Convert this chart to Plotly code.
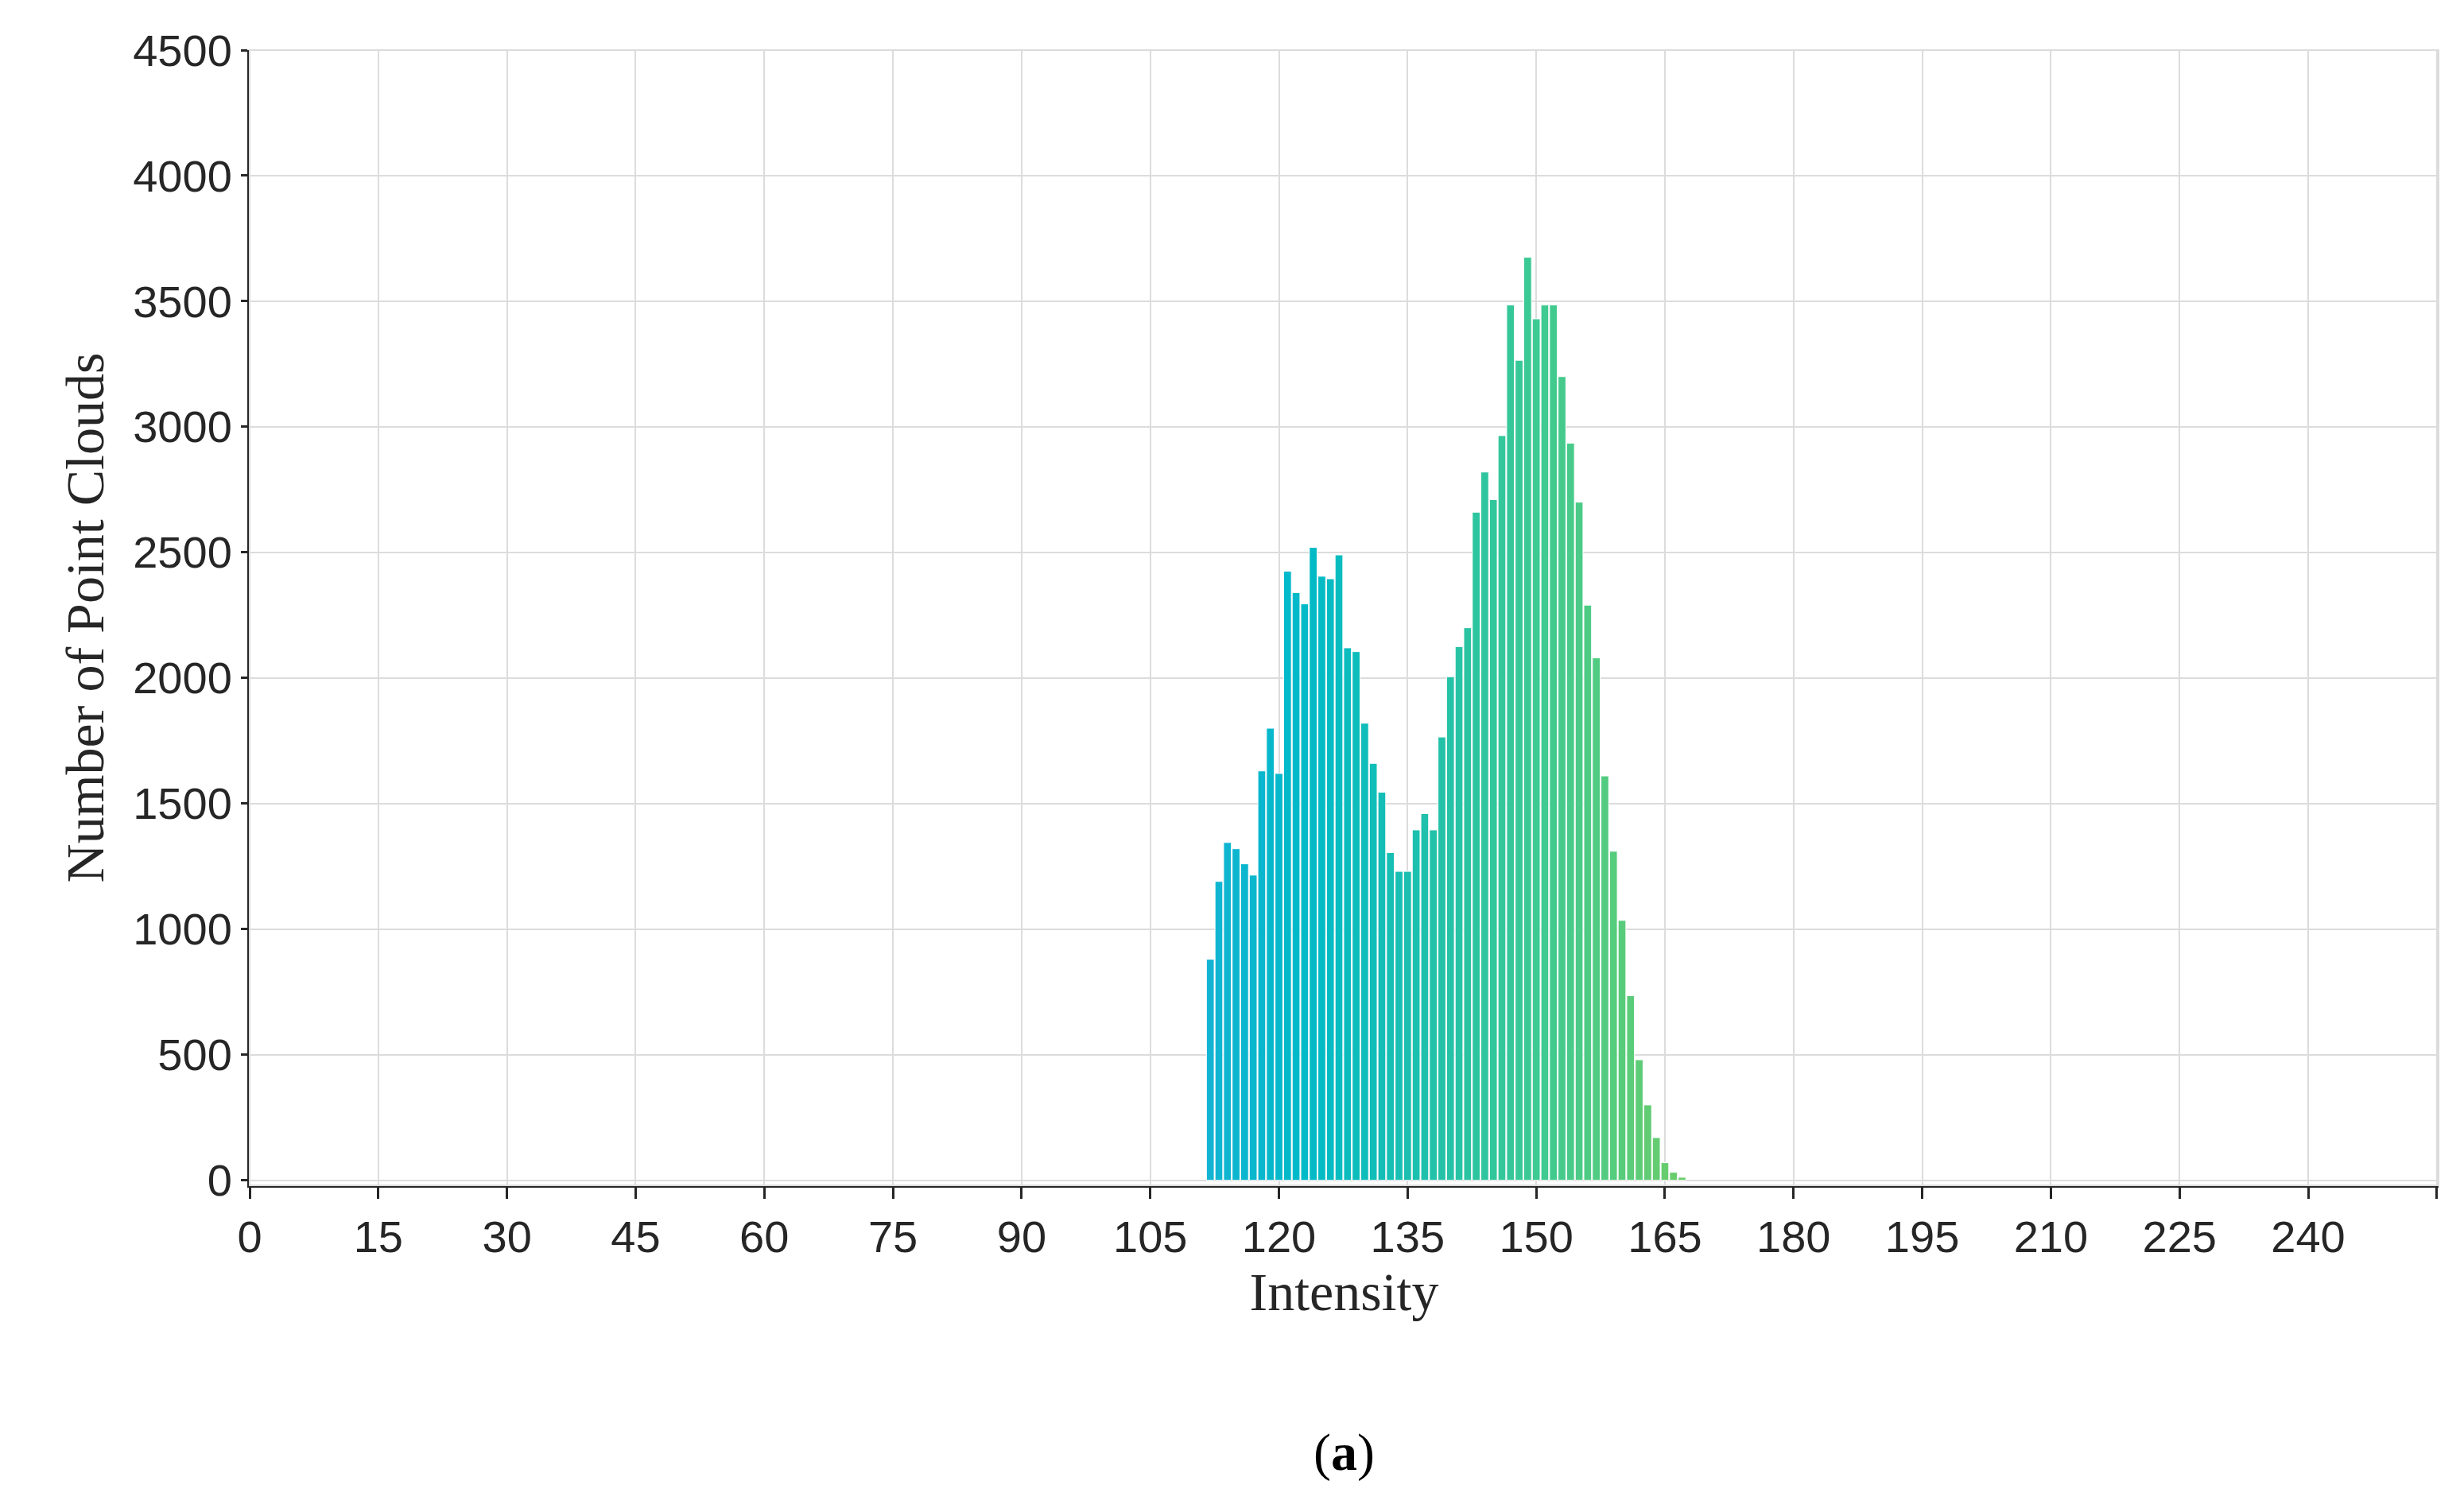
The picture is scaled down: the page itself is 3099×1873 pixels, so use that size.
import plotly.graph_objects as go

intensity = list(range(112, 168))
counts = [880, 1190, 1345, 1320, 1260, 1215, 1630, 1800, 1620, 2425, 2340, 2295, 2520, 2405,
          2395, 2490, 2120, 2105, 1820, 1660, 1545, 1305, 1230, 1230, 1395, 1460, 1395, 1765,
          2005, 2125, 2200, 2660, 2820, 2710, 2965, 3485, 3265, 3675, 3430, 3485, 3485, 3200,
          2935, 2700, 2290, 2080, 1610, 1310, 1035, 735, 480, 300, 170, 70, 32, 12]
xticks = list(range(0, 256, 15))
yticks = list(range(0, 4501, 500))

stops = [(0.0, (18, 180, 210)), (0.2, (0, 186, 200)), (0.45, (30, 192, 172)),
         (0.7, (62, 202, 146)), (1.0, (108, 205, 106))]
def col(t):
    for (a, ca), (b, cb) in zip(stops, stops[1:]):
        if t <= b:
            f = (t - a) / (b - a)
            return "rgb(%d,%d,%d)" % tuple(round(ca[i] + f * (cb[i] - ca[i])) for i in range(3))
    return "rgb(%d,%d,%d)" % stops[-1][1]
n = len(intensity)
colors = [col(i / (n - 1)) for i in range(n)]

fig = go.Figure(go.Bar(x=intensity, y=counts, marker=dict(color=colors, line=dict(color="white", width=1)),
                       width=0.9))
fig.update_layout(
    width=3099, height=1873, plot_bgcolor="white", paper_bgcolor="white",
    margin=dict(l=306, r=40, t=55, b=390), showlegend=False,
    font=dict(family="Liberation Sans", color="#262626"),
    annotations=[dict(text="(<b>a</b>)", x=0.5, xref="paper", y=-0.235, yref="paper", yanchor="middle",
                      showarrow=False, font=dict(family="Liberation Serif", size=66, color="black"))],
)
fig.update_xaxes(range=[0, 255.2], tickvals=xticks + [255], ticks="outside", ticklen=14, tickwidth=3, tickcolor="#262626",
                 showline=True, linecolor="#262626", linewidth=3, showgrid=True, gridcolor="#dcdcdc", gridwidth=2,
                 tickfont=dict(size=56), zeroline=False,
                 title=dict(text="Intensity", font=dict(family="Liberation Serif", size=68, color="#262626"), standoff=15))
fig.update_yaxes(range=[-20, 4500], tickvals=yticks, ticks="outside", ticklen=8, tickwidth=3, tickcolor="#262626",
                 showline=True, linecolor="#262626", linewidth=3, showgrid=True, gridcolor="#dcdcdc", gridwidth=2,
                 tickfont=dict(size=56), zeroline=False,
                 title=dict(text="Number of Point Clouds", font=dict(family="Liberation Serif", size=68, color="#262626"), standoff=15))
fig.add_shape(type="rect", xref="paper", yref="paper", x0=0, x1=1, y0=0, y1=1, line=dict(color="#dcdcdc", width=2))
fig.write_html("out.html")
